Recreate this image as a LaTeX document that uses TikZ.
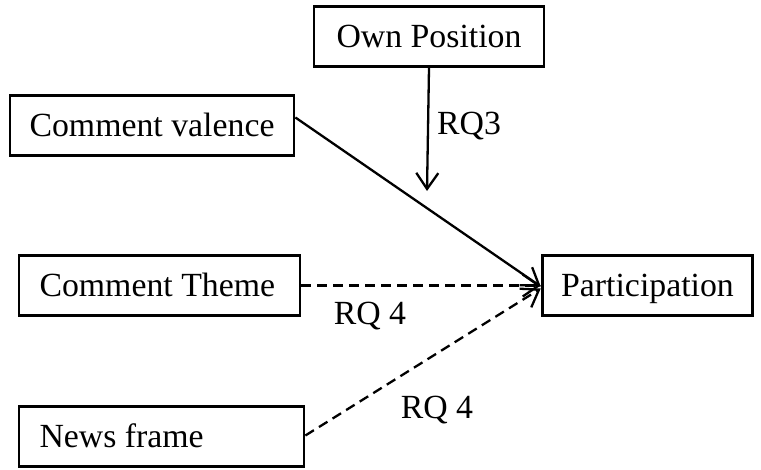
\documentclass[tikz,border=0pt]{standalone}
\usepackage{fontspec}
\setmainfont{Liberation Serif}
\usetikzlibrary{arrows.meta, positioning}
\tikzset{
    varbox/.style={draw, line width=2.8pt, fill=white, inner xsep=19pt,
        minimum height=60pt, text height=23pt, text depth=1pt,
        font=\fontsize{33.8}{40}\selectfont},
    rqlabel/.style={font=\fontsize{33.8}{40}\selectfont, inner sep=0pt},
    effect/.style={line width=2.3pt, -{Straight Barb[length=16pt, width=22pt, line width=2.3pt]}},
    hypo/.style={effect, dash pattern=on 10pt off 6pt},
}

\begin{document}
\begin{tikzpicture}[x=1pt, y=-1pt]
        \useasboundingbox (0, 0) rectangle (761, 469);
        \node[varbox, minimum width=230pt] (own) at (429, 36.5) {Own Position};
        \node[varbox, minimum width=284pt] (valence) at (152, 125.5) {Comment valence};
        \node[varbox, minimum width=281pt, text width=240pt, align=flush left] (theme)
            at (159.5, 285.5) {Comment Theme};
        \node[varbox, minimum width=201pt] (part) at (647.5, 285.5) {Participation};
        \node[varbox, minimum width=285pt, text width=244pt, align=flush left] (news)
            at (161.5, 436.5) {News frame};
        \coordinate (rqtip) at (427, 191);
        \draw[effect] (own.south) -- (rqtip);
        \draw[effect] ([yshift=8pt]valence.east) -- ([yshift=-1pt]part.west);
        \draw[hypo] (theme.east) -- (part.west);
        \draw[hypo] ([yshift=1pt]news.east) -- ([yshift=-3pt]part.west);
        \node[rqlabel] (rqown) at (469, 126) {RQ3};
        \node[rqlabel] (rqtheme) at (370, 316) {RQ 4};
        \node[rqlabel] (rqnews) at (437, 410) {RQ 4};
    \end{tikzpicture}
\end{document}
